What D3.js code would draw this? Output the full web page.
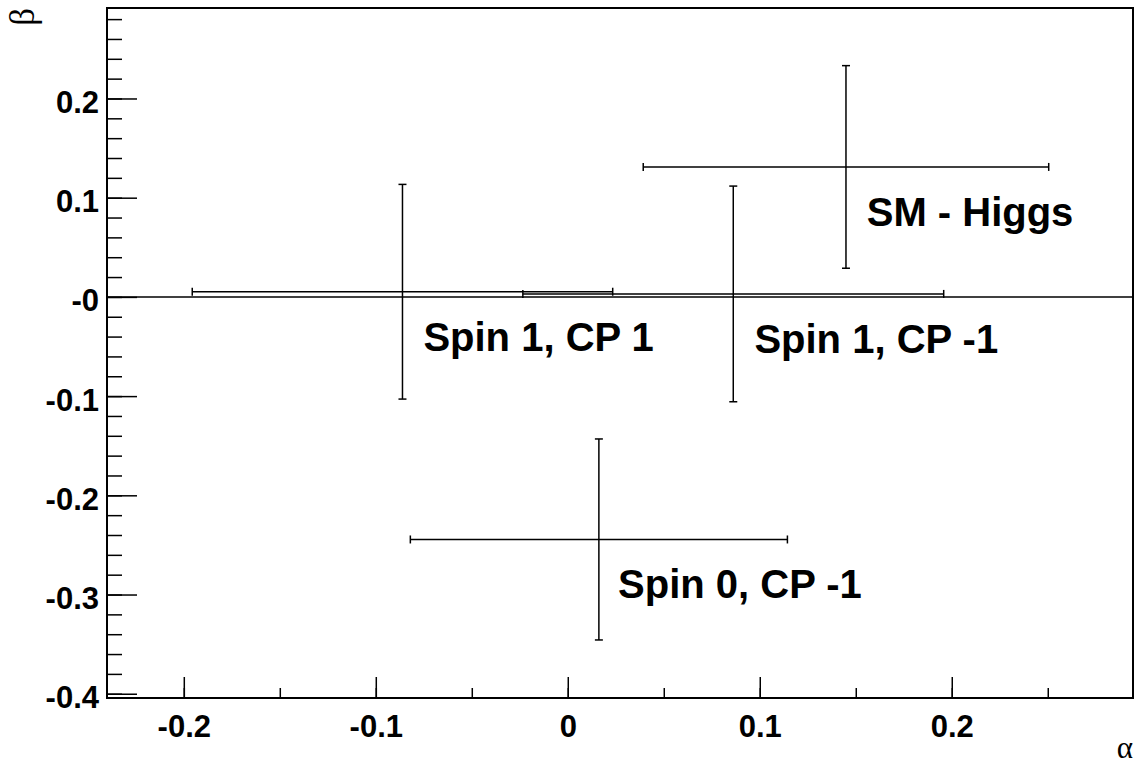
<!DOCTYPE html>
<meta charset="utf-8">
<script src="https://cdn.jsdelivr.net/npm/d3@7"></script>
<style>
  body { margin: 0; background: #fff; }
  text { font-family: "Liberation Sans", Arial, sans-serif; }
</style>
<body>
<script>

// Data: one point per hypothesis, with symmetric errors.
var names  = ["SM - Higgs", "Spin 1, CP 1", "Spin 1, CP -1", "Spin 0, CP -1"];
var alpha  = [0.1449, -0.0861, 0.0862, 0.0162];
var alphaErr = [0.1056, 0.1095, 0.1096, 0.0982];
var beta   = [0.1310, 0.0052, 0.0030, -0.2445];
var betaErr = [0.1021, 0.1082, 0.1087, 0.1013];

// Where each label sits, in (alpha, beta) units.
var labelAlpha = [0.1557, -0.0752, 0.0972, 0.0262];
var labelBeta  = [0.0715, -0.0545, -0.0568, -0.3038];

// Axis ticks.
var xTicks = [-0.2, -0.1, 0, 0.1, 0.2];
var xTickLabels = ["-0.2", "-0.1", "0", "0.1", "0.2"];
var yTicks = [0.2, 0.1, 0, -0.1, -0.2, -0.3, -0.4];
var yTickLabels = ["0.2", "0.1", "-0", "-0.1", "-0.2", "-0.3", "-0.4"];

var W = 1139, H = 768;
var frame = {left: 107, top: 8, right: 1133, bottom: 698};

var svg = d3.select("body").append("svg")
    .attr("width", W)
    .attr("height", H);

var x = d3.scaleLinear()
  .domain([-0.2400, 0.2944])
  .range([frame.left, frame.right]);

var y = d3.scaleLinear()
  .domain([-0.4043, 0.2912])
  .range([frame.bottom, frame.top]);

var data = names.map(function(n, i) {
  return {name: n, a: alpha[i], ea: alphaErr[i], b: beta[i], eb: betaErr[i],
          la: labelAlpha[i], lb: labelBeta[i]};
});

// Minor ticks (no labels).
var xMinor = d3.range(-0.25, 0.30, 0.05).filter(function(v) {
  return v > x.domain()[0] && v < x.domain()[1];
});
var yMinor = d3.range(-0.40, 0.30, 0.02).filter(function(v) {
  return v > y.domain()[0] && v < y.domain()[1];
});

svg.append("g")
  .attr("transform", "translate(0," + frame.bottom + ")")
  .call(d3.axisBottom(x).tickValues(xMinor).tickSize(-10).tickFormat(""))
  .call(function(g) { g.select(".domain").remove(); })
  .selectAll("line").attr("stroke-width", 1.5);

svg.append("g")
  .attr("transform", "translate(" + frame.left + ",0)")
  .call(d3.axisLeft(y).tickValues(yMinor).tickSize(-15).tickFormat(""))
  .call(function(g) { g.select(".domain").remove(); })
  .selectAll("line").attr("stroke-width", 1.5);

// Major x axis.
var xAxis = svg.append("g")
  .attr("transform", "translate(0," + frame.bottom + ")")
  .call(d3.axisBottom(x).tickValues(xTicks).tickSize(-21).tickPadding(0)
    .tickFormat(function(d, i) { return xTickLabels[i]; }));
xAxis.select(".domain").remove();
xAxis.selectAll("line").attr("stroke-width", 1.5);
xAxis.selectAll("text")
  .attr("y", 39).attr("dy", 0)
  .attr("font-size", 31).attr("font-weight", "bold")
  .attr("font-family", "'Liberation Sans', Arial, sans-serif")
  .attr("fill", "#000");

// Major y axis.
var yAxis = svg.append("g")
  .attr("transform", "translate(" + frame.left + ",0)")
  .call(d3.axisLeft(y).tickValues(yTicks).tickSize(-30).tickPadding(8)
    .tickFormat(function(d, i) { return yTickLabels[i]; }));
yAxis.select(".domain").remove();
yAxis.selectAll("line").attr("stroke-width", 1.5);
yAxis.selectAll("text")
  .attr("dy", 14)
  .attr("font-size", 31).attr("font-weight", "bold")
  .attr("font-family", "'Liberation Sans', Arial, sans-serif")
  .attr("fill", "#000");

// Frame.
svg.append("rect")
  .attr("x", frame.left)
  .attr("y", frame.top)
  .attr("width", frame.right - frame.left)
  .attr("height", frame.bottom - frame.top)
  .attr("fill", "none")
  .attr("stroke", "#000")
  .attr("stroke-width", 2);

// Line at beta = 0.
svg.append("line")
  .attr("x1", frame.left).attr("x2", frame.right)
  .attr("y1", y(0)).attr("y2", y(0))
  .attr("stroke", "#000")
  .attr("stroke-width", 1.5);

// Error crosses.
var cap = 4;
var pts = svg.selectAll(".pt")
    .data(data)
  .enter().append("g")
    .attr("class", "pt")
    .attr("stroke", "#000")
    .attr("stroke-width", 1.5);

pts.append("line")
  .attr("x1", function(d) { return x(d.a - d.ea); })
  .attr("x2", function(d) { return x(d.a + d.ea); })
  .attr("y1", function(d) { return y(d.b); })
  .attr("y2", function(d) { return y(d.b); });
pts.append("line")
  .attr("x1", function(d) { return x(d.a); })
  .attr("x2", function(d) { return x(d.a); })
  .attr("y1", function(d) { return y(d.b - d.eb); })
  .attr("y2", function(d) { return y(d.b + d.eb); });

// End caps.
[-1, 1].forEach(function(s) {
  pts.append("line")
    .attr("x1", function(d) { return x(d.a + s * d.ea); })
    .attr("x2", function(d) { return x(d.a + s * d.ea); })
    .attr("y1", function(d) { return y(d.b) - cap; })
    .attr("y2", function(d) { return y(d.b) + cap; });
  pts.append("line")
    .attr("x1", function(d) { return x(d.a) - cap; })
    .attr("x2", function(d) { return x(d.a) + cap; })
    .attr("y1", function(d) { return y(d.b + s * d.eb); })
    .attr("y2", function(d) { return y(d.b + s * d.eb); });
});

// Labels.
svg.selectAll(".label")
    .data(data)
  .enter().append("text")
    .attr("class", "label")
    .attr("x", function(d) { return x(d.la); })
    .attr("y", function(d) { return y(d.lb); })
    .attr("font-size", 40)
    .attr("font-weight", "bold")
    .attr("fill", "#000")
    .text(function(d) { return d.name; });

// Axis titles.
svg.append("text")
  .attr("x", frame.right)
  .attr("y", 758)
  .attr("text-anchor", "end")
  .style("font-family", "'Liberation Serif', 'Times New Roman', serif")
  .attr("font-size", 31)
  .text("α");

svg.append("text")
  .attr("transform", "translate(34,8) rotate(-90)")
  .attr("text-anchor", "end")
  .style("font-family", "'Liberation Serif', 'Times New Roman', serif")
  .attr("font-size", 35)
  .text("β");

</script>
</body>
</html>
